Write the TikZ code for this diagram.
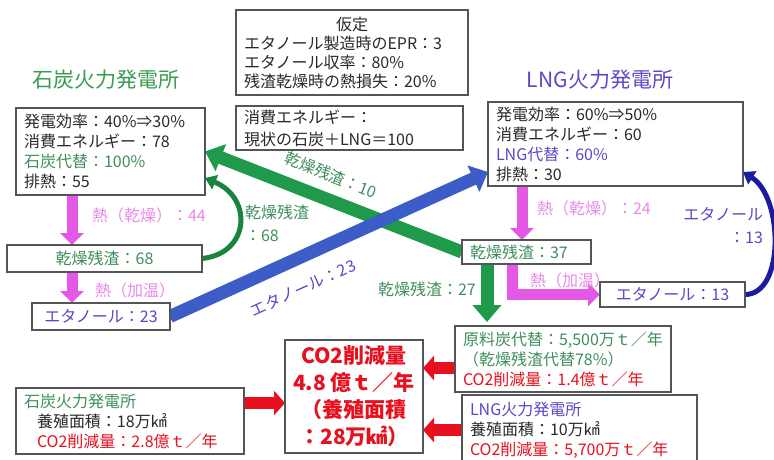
\documentclass[tikz,border=0pt]{standalone}
\usepackage{fontspec}
\setmainfont{Noto Sans CJK JP}
\usetikzlibrary{arrows.meta,calc,backgrounds}
\definecolor{tgreen}{HTML}{3E8F5C}
\definecolor{ggreen}{HTML}{3A9B4E}
\definecolor{agreen}{HTML}{1E9A4A}
\definecolor{tpurple}{HTML}{5A48C8}
\definecolor{ablue}{HTML}{3C5CC8}
\definecolor{dblue}{HTML}{1C1AA0}
\definecolor{tpink}{HTML}{E88AE8}
\definecolor{apink}{HTML}{E458E6}
\definecolor{tred}{HTML}{E8101E}
\definecolor{boxc}{HTML}{555555}
\definecolor{tblack}{HTML}{2A2A2A}
\begin{document}
\begin{tikzpicture}[x=1pt,y=-1pt,
  every node/.style={inner sep=0pt, outer sep=0pt, text=tblack, font=\fontsize{16}{20}\selectfont},
  box/.style={draw=boxc, line width=1.1pt, fill=white, anchor=north west, inner xsep=8pt, inner ysep=2pt, align=left},
  cbox/.style={draw=boxc, line width=1.1pt, fill=white, anchor=north west, inner sep=0pt, align=center},
  ttl/.style={font=\fontsize{21}{24}\selectfont},
  pinklbl/.style={text=tpink},
  greenlbl/.style={text=tgreen},
  purplelbl/.style={text=tpurple},
  pinkarr/.style={draw=apink, line width=11pt, -{Triangle[length=12pt,width=23pt]}},
  greenarr/.style={draw=agreen, line width=13pt, -{Triangle[length=17pt,width=28pt]}},
  bluearr/.style={draw=ablue, line width=13pt, -{Triangle[length=16pt,width=28pt]}},
  redarr/.style={draw=tred, line width=12pt, -{Triangle[length=11pt,width=24pt]}},
  gcurve/.style={draw=agreen!85!black, line width=5pt, -{Triangle[length=11pt,width=15pt]}},
  bcurve/.style={draw=dblue, line width=5pt, -{Triangle[length=11pt,width=15pt]}}
]
\useasboundingbox (0,0) rectangle (774,459);

% titles
\node[ttl, text=ggreen] (tcoal) at (106,80) {石炭火力発電所};
\node[ttl, text=tpurple] (tlng) at (600,80) {LNG火力発電所};

% boxes
\node[box, text width=216pt, minimum height=85pt, font=\fontsize{16}{19}\selectfont] (assume) at (236,10)
  {\makebox[216pt]{仮定}\\エタノール製造時のEPR：3\\エタノール収率：80\%\\残渣乾燥時の熱損失：20\%};
\node[box, text width=211pt, minimum height=44pt, font=\fontsize{16}{22}\selectfont] (cons) at (236,106)
  {消費エネルギー：\\現状の石炭＋LNG＝100};
\node[box, text width=173pt, minimum height=87pt] (lbox) at (16,108)
  {発電効率：40\%⇒30\%\\消費エネルギー：78\\\textcolor{tgreen}{石炭代替：100\%}\\排熱：55};
\node[box, text width=239pt, minimum height=84pt] (rbox) at (488,102)
  {発電効率：60\%⇒50\%\\消費エネルギー：60\\\textcolor{tpurple}{LNG代替：60\%}\\排熱：30};
\node[cbox, minimum width=195pt, minimum height=27pt, text=tgreen] (d68) at (7,245) {乾燥残渣：68};
\node[cbox, minimum width=138pt, minimum height=27pt, text=tpurple] (e23) at (32,303) {エタノール：23};
\node[box, text width=113pt, minimum height=24pt, text=tgreen] (d37) at (462,240) {乾燥残渣：37};
\node[cbox, minimum width=145pt, minimum height=25pt, text=tpurple] (e13) at (600,282) {エタノール：13};
\node[box, text width=200pt, minimum height=66pt] (coal) at (455,326)
  {\textcolor{tgreen}{原料炭代替：5,500万ｔ／年}\\\textcolor{tgreen}{（乾燥残渣代替78\%）}\\\textcolor{tred}{CO2削減量：1.4億ｔ／年}};
\node[box, text width=219pt, minimum height=70pt] (lngb) at (462,395)
  {\textcolor{tpurple}{LNG火力発電所}\\養殖面積：10万㎢\\\textcolor{tred}{CO2削減量：5,700万ｔ／年}};
\node[cbox, minimum width=138pt, minimum height=113pt, text=tred, font=\bfseries\fontsize{21}{27}\selectfont] (co2) at (285,340)
  {CO2削減量\\\mbox{4.8 億ｔ／年}\\（養殖面積\\：28万㎢）};
\node[box, text width=212pt, minimum height=66pt] (lb) at (16,388)
  {\textcolor{tgreen}{石炭火力発電所}\\\hspace*{13pt}養殖面積：18万㎢\\\hspace*{13pt}\textcolor{tred}{CO2削減量：2.8億ｔ／年}};

% labels
\node[pinklbl, anchor=west] (l44) at (92,215) {熱（乾燥）：44};
\node[pinklbl, anchor=west] (lk1) at (95,290) {熱（加温）};
\node[greenlbl, anchor=north west, align=left, font=\fontsize{16}{23}\selectfont] (l68) at (245,205) {乾燥残渣\\：68};
\node[pinklbl, anchor=west] (l24) at (537,208) {熱（乾燥）：24};
\node[pinklbl, anchor=west] (lk2) at (530,280) {熱（加温）};
\node[purplelbl, anchor=north east, align=right, font=\fontsize{16}{23}\selectfont] (l13) at (763,207) {エタノール\\：13};
\node[greenlbl, anchor=west] (l27) at (378,289) {乾燥残渣：27};
\node[greenlbl, rotate=-21.5] (l10) at (331,175) {乾燥残渣：10};
\node[purplelbl, rotate=24.4] (l23) at (303,288) {エタノール：23};

\coordinate (r1) at ($(lb.north east)+(0,15)$);
\coordinate (r2) at ($(coal.west)+(0,9)$);

\begin{scope}[on background layer]
  % pink heat arrows
  \draw[pinkarr] ($(lbox.south west)+(56,0)$) -- ($(d68.north west)+(65,0)$);
  \draw[pinkarr] ($(d68.south west)+(65,0)$) -- ($(e23.north west)+(40,0)$);
  \draw[pinkarr] ($(rbox.south west)+(34,0)$) -- ($(d37.north west)+(60,0)$);
  \draw[pinkarr] ($(d37.south west)+(50,0)$) |- (e13.west);
  % green residue arrows
  \draw[greenarr] (d37.west) -- (lbox.east);
  \draw[greenarr, shorten >=4pt] ($(d37.south west)+(25,0)$) -- ($(coal.north west)+(32,0)$);
  \draw[gcurve] (d68.east) .. controls +(48,-5) and +(48,20) .. ([yshift=17pt]lbox.south east);
  % ethanol arrows
  \draw[bluearr] (e23.east) -- ([yshift=14pt]rbox.south west);
  \draw[bcurve] (e13.east) .. controls +(40,0) and +(40,25) .. ([yshift=14pt]rbox.south east);
  % red arrows
  \draw[redarr] (r1) -- (r1 -| co2.west);
  \draw[redarr] (r2) -- (r2 -| co2.east);
  \draw[redarr] (lngb.west) -- (lngb.west -| co2.east);
\end{scope}
\end{tikzpicture}
\end{document}
